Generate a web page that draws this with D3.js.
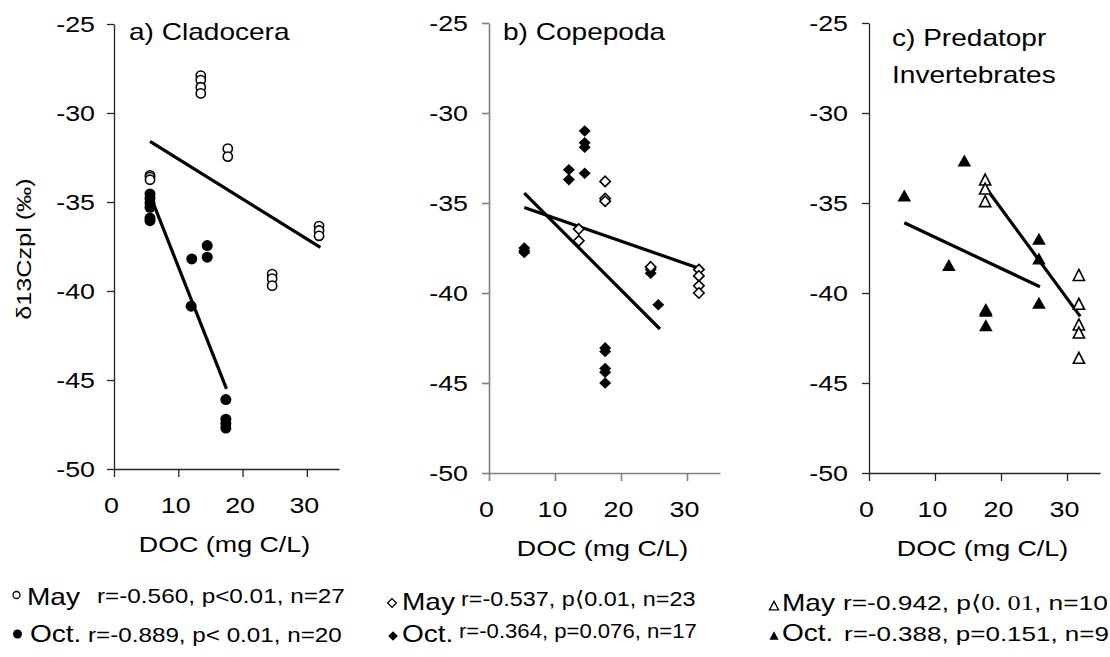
<!DOCTYPE html>
<html>
<head>
<meta charset="utf-8">
<script src="https://cdn.jsdelivr.net/npm/d3@7"></script>
<style>
  html, body { margin: 0; padding: 0; background: #fff; }
  svg { display: block; }
</style>
</head>
<body>
<svg id="chart" width="1110" height="657"></svg>
<script>
// Axis ticks shared by the three panels
const xTicks = [0, 10, 20, 30];
const yTicks = [-25, -30, -35, -40, -45, -50];

// a) Cladocera: [DOC, d13C]
const cladoMay = [
  [5.6, -33.5], [5.6, -33.6], [5.6, -33.75],
  [13.5, -27.9], [13.5, -28.15], [13.5, -28.55], [13.5, -28.9],
  [17.7, -32.0], [17.7, -32.45],
  [24.6, -39.05], [24.6, -39.3], [24.6, -39.7],
  [31.9, -36.35], [31.9, -36.6], [31.9, -36.9]
];
const cladoOct = [
  [5.6, -34.55], [5.6, -34.8], [5.6, -35.05], [5.6, -35.3], [5.6, -35.9], [5.6, -36.05],
  [12.1, -38.2], [14.5, -37.45], [14.5, -38.1], [12.0, -40.85],
  [17.4, -46.1], [17.4, -47.2], [17.4, -47.45], [17.4, -47.7]
];
const cladoMayFit = [[5.6, -31.6], [32.1, -37.55]];
const cladoOctFit = [[5.6, -34.6], [17.5, -45.5]];

// b) Copepoda
const copeMay = [
  [17.6, -33.8], [17.6, -34.75], [17.6, -34.9],
  [13.6, -36.45], [13.6, -37.1],
  [24.5, -38.55],
  [31.8, -38.7], [31.8, -39.05], [31.8, -39.6], [31.8, -40.0]
];
const copeOct = [
  [5.35, -37.5], [5.35, -37.65], [5.35, -37.75],
  [12.1, -33.15], [12.1, -33.7],
  [14.5, -31.0], [14.5, -31.65], [14.5, -31.9], [14.5, -33.35],
  [24.5, -38.7], [24.5, -38.9],
  [25.65, -40.65],
  [17.6, -43.05], [17.6, -43.25], [17.6, -44.2], [17.6, -44.4], [17.6, -45.0]
];
const copeMayFit = [[5.35, -35.25], [32.0, -38.65]];
const copeOctFit = [[5.35, -34.45], [25.9, -42.0]];

// c) Predatory invertebrates
const predMay = [
  [17.6, -33.8], [17.6, -34.3], [17.6, -35.0],
  [31.8, -39.1], [31.8, -40.7], [31.8, -41.85], [31.8, -42.3], [31.8, -43.7]
];
const predOct = [
  [5.35, -34.7], [14.45, -32.75], [12.1, -38.55],
  [25.75, -37.1], [25.75, -38.2], [25.75, -40.65],
  [17.7, -41.0], [17.7, -41.1], [17.7, -41.9]
];
const predMayFit = [[17.6, -34.1], [32.0, -41.3]];
const predOctFit = [[5.35, -36.1], [25.9, -39.65]];

// Titles and legend statistics
const titles = [["a) Cladocera"], ["b) Copepoda"], ["c) Predatopr", "Invertebrates"]];
const seasons = ["May", "Oct."];
const statsMay = [
  [{t: "r=-0.560, p<0.01, n=27"}],
  [{t: "r=-0.537, p"}, {t: "\u27e8", narrow: true}, {t: "0.01, n=23"}],
  [{t: "r=-0.942, p"}, {t: "\u27e80. 01", serif: true}, {t: ", n=10"}]
];
const statsOct = [
  [{t: "r=-0.889, p< 0.01, n=20"}],
  [{t: "r=-0.364, p=0.076, n=17"}],
  [{t: "r=-0.388, p=0.151, n=9"}]
];

const SANS = "'Liberation Sans', Arial, Helvetica, sans-serif";
const SERIF = "'Liberation Serif', 'DejaVu Serif', serif";
const WIDE = 1.22;   // text in this figure is set wide

const svg = d3.select("#chart");

// widen a text element about its own anchor point
function widen(sel, k) {
  sel.each(function () {
    const t = d3.select(this);
    const x = +t.attr("x") || 0, y = +t.attr("y") || 0;
    t.attr("transform", `translate(${x},${y}) scale(${k},1) translate(${-x},${-y})`);
  });
}
// stretch a text element so that it spans a given width
function fitWidth(sel, w) {
  const len = sel.node().getComputedTextLength();
  widen(sel, len > 0 ? w / len : 1);
}

// marker path generators (centred on the data point)
const shapes = {
  circle: (filled) => {
    const r = filled ? 5.5 : 4.6;
    return `M${-r},0A${r},${r} 0 1,0 ${r},0A${r},${r} 0 1,0 ${-r},0Z`;
  },
  diamond: (filled) => {
    const w = filled ? 6 : 5.2, h = filled ? 5.8 : 5.2;
    return `M0,${-h}L${w},0L0,${h}L${-w},0Z`;
  },
  triangle: (filled) => {
    const w = filled ? 6.8 : 5.6, h = filled ? 12 : 11;
    return `M0,${-2 * h / 3}L${w},${h / 3}L${-w},${h / 3}Z`;
  }
};
const legendShapes = {
  circle: (filled) => { const r = filled ? 4.5 : 3.5; return `M${-r},0A${r},${r} 0 1,0 ${r},0A${r},${r} 0 1,0 ${-r},0Z`; },
  diamond: (filled) => { const w = filled ? 4.8 : 4.4; return `M0,${-w}L${w},0L0,${w}L${-w},0Z`; },
  triangle: (filled) => { const w = 4.6, h = 8.5; return `M0,${-2 * h / 3}L${w},${h / 3}L${-w},${h / 3}Z`; }
};

const panels = [
  { x0: 114, x1: 339, yt: 24, yb: 469, axisColor: "#262626", axisWidth: 1.3, padY: 12,
    shape: "circle", may: cladoMay, oct: cladoOct, mayFit: cladoMayFit, octFit: cladoOctFit,
    title: { x: 129, y: [40] }, xLabelY: 552,
    legend: { may: { mx: 16.5, my: 595, sx: 27, sy: 605, rx: 97, ry: 603, rw: 248 },
              oct: { mx: 17.5, my: 634, sx: 30, sy: 642, rx: 88, ry: 642, rw: 254 } } },
  { x0: 489, x1: 720, yt: 23, yb: 473, axisColor: "#808080", axisWidth: 1.6, padY: 14,
    shape: "diamond", may: copeMay, oct: copeOct, mayFit: copeMayFit, octFit: copeOctFit,
    title: { x: 503, y: [40] }, xLabelY: 556,
    legend: { may: { mx: 392, my: 603, sx: 402, sy: 610, rx: 461, ry: 606, rw: 234 },
              oct: { mx: 393, my: 636, sx: 402, sy: 642, rx: 459, ry: 638, rw: 238 } } },
  { x0: 869, x1: 1100, yt: 23, yb: 473, axisColor: "#262626", axisWidth: 1.3, padY: 14,
    shape: "triangle", may: predMay, oct: predOct, mayFit: predMayFit, octFit: predOctFit,
    title: { x: 892, y: [46, 83] }, xLabelY: 556,
    legend: { may: { mx: 774, my: 607, sx: 782, sy: 611, rx: 843, ry: 610, rw: 265 },
              oct: { mx: 774, my: 637, sx: 782, sy: 641, rx: 844, ry: 641, rw: 265 } } }
];

panels.forEach((p, i) => {
  const g = svg.append("g");
  const x = d3.scaleLinear().domain([0, 35]).range([p.x0, p.x1]);
  const y = d3.scaleLinear().domain([-50, -25]).range([p.yb, p.yt]);

  // axes
  const gx = g.append("g")
    .attr("transform", `translate(0,${p.yb})`)
    .call(d3.axisBottom(x).tickValues(xTicks).tickFormat(d => String(d))
      .tickSize(8).tickPadding(20).tickSizeOuter(0));
  const gy = g.append("g")
    .attr("transform", `translate(${p.x0},0)`)
    .call(d3.axisLeft(y).tickValues(yTicks).tickFormat(d => String(d))
      .tickSize(7).tickPadding(p.padY).tickSizeOuter(0));
  [gx, gy].forEach(a => {
    a.attr("font-family", null).attr("font-size", null);
    a.selectAll("path.domain, line").attr("stroke", p.axisColor).attr("stroke-width", p.axisWidth);
    a.selectAll("text").attr("fill", "#000").style("font-family", SANS).style("font-size", "22px");
  });
  gx.selectAll("text").attr("x", -3);
  widen(gx.selectAll("text"), WIDE);
  widen(gy.selectAll("text"), WIDE);

  // regression lines
  const line = d3.line().x(d => x(d[0])).y(d => y(d[1]));
  [p.octFit, p.mayFit].forEach(f => {
    g.append("path").attr("d", line(f)).attr("fill", "none")
      .attr("stroke", "#000").attr("stroke-width", 3.2);
  });

  // points: October (filled) beneath May (open)
  g.append("g").selectAll("path").data(p.oct).join("path")
    .attr("transform", d => `translate(${x(d[0])},${y(d[1])})`)
    .attr("d", shapes[p.shape](true)).attr("fill", "#000");
  g.append("g").selectAll("path").data(p.may).join("path")
    .attr("transform", d => `translate(${x(d[0])},${y(d[1])})`)
    .attr("d", shapes[p.shape](false)).attr("fill", "#fff")
    .attr("stroke", "#000").attr("stroke-width", 1.6);

  // panel title
  titles[i].forEach((t, k) => {
    const tt = g.append("text").attr("x", p.title.x).attr("y", p.title.y[k])
      .style("font-family", SANS).style("font-size", "23px").text(t);
    widen(tt, WIDE);
  });

  // x axis label
  const xl = g.append("text").attr("x", (p.x0 + p.x1) / 2 - 2).attr("y", p.xLabelY)
    .attr("text-anchor", "middle").style("font-family", SANS).style("font-size", "22px")
    .text("DOC (mg C/L)");
  widen(xl, WIDE);

  // legend
  [["may", statsMay[i], false], ["oct", statsOct[i], true]].forEach(([key, segs, filled], k) => {
    const L = p.legend[key];
    g.append("path").attr("transform", `translate(${L.mx},${L.my})`)
      .attr("d", legendShapes[p.shape](filled))
      .attr("fill", filled ? "#000" : "#fff").attr("stroke", "#000").attr("stroke-width", filled ? 0 : 1.3);
    const s = g.append("text").attr("x", L.sx).attr("y", L.sy)
      .style("font-family", SANS).style("font-size", "23px").text(seasons[k]);
    widen(s, WIDE);
    const r = g.append("text").attr("x", L.rx).attr("y", L.ry)
      .style("font-family", SANS).style("font-size", "21px");
    segs.forEach(sg => {
      r.append("tspan").text(sg.t)
        .style("font-family", sg.serif ? SERIF : (sg.narrow ? "'DejaVu Sans', sans-serif" : SANS))
        .style("font-weight", sg.narrow ? 200 : null);
    });
    fitWidth(r, L.rw);
  });
});

// shared y axis label
svg.append("text")
  .attr("transform", "translate(31,249) rotate(-90) scale(1.26,1)")
  .attr("text-anchor", "middle")
  .style("font-family", SANS).style("font-size", "20px")
  .text("\u03b413Czpl (\u2030)");
</script>
</body>
</html>
